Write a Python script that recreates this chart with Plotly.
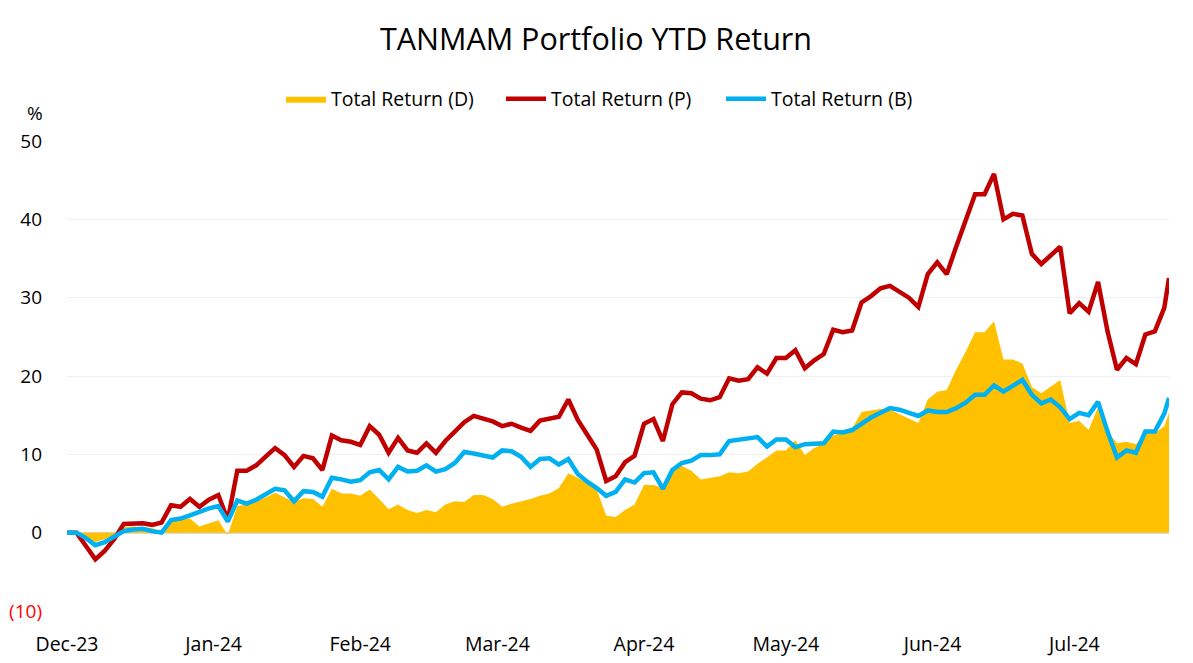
import pandas as pd
import plotly.graph_objects as go

# sample dates (every 2nd day, last point one day later)
dates = list(pd.date_range("2023-12-29", "2024-08-17", freq="2D")) + [pd.Timestamp("2024-08-18")]

# Total Return (P) - portfolio
ret_p = [
    0, 0, -1.7, -3.4, -2.3, -0.8, 1.1, 1.2, 1.2, 1.0,
    1.3, 3.5, 3.3, 4.3, 3.3, 4.2, 4.8, 1.6, 7.9, 7.9,
    8.6, 9.7, 10.8, 9.9, 8.4, 9.8, 9.5, 8.0, 12.4, 11.8,
    11.6, 11.2, 13.6, 12.5, 10.2, 12.1, 10.5, 10.2, 11.4, 10.2,
    11.7, 12.9, 14.1, 14.9, 14.6, 14.2, 13.6, 13.9, 13.4, 13.0,
    14.3, 14.5, 14.8, 17.0, 14.4, 12.5, 10.6, 6.6, 7.2, 9.0,
    9.8, 13.9, 14.5, 11.7, 16.4, 17.9, 17.8, 17.1, 16.9, 17.3,
    19.7, 19.4, 19.6, 21.1, 20.3, 22.3, 22.3, 23.3, 21.0, 22.0,
    22.8, 25.9, 25.6, 25.8, 29.4, 30.2, 31.2, 31.5, 30.7, 30.0,
    28.8, 33.0, 34.5, 33.0, 36.5, 39.8, 43.2, 43.2, 45.8, 40.0,
    40.7, 40.5, 35.6, 34.3, 35.5, 36.5, 28.0, 29.3, 28.2, 32.0,
    25.7, 20.8, 22.3, 21.5, 25.3, 25.7, 28.7, 32.5,
]

# Total Return (B) - benchmark
ret_b = [
    0, 0, -0.7, -1.6, -1.2, -0.5, 0.2, 0.4, 0.5, 0.2,
    0.0, 1.6, 1.8, 2.2, 2.7, 3.1, 3.4, 1.4, 4.1, 3.7,
    4.2, 4.9, 5.6, 5.4, 4.0, 5.3, 5.2, 4.6, 7.0, 6.8,
    6.5, 6.7, 7.7, 8.0, 6.8, 8.4, 7.8, 7.9, 8.6, 7.8,
    8.1, 8.9, 10.3, 10.1, 9.9, 9.6, 10.5, 10.4, 9.7, 8.4,
    9.4, 9.5, 8.7, 9.4, 7.5, 6.5, 5.7, 4.7, 5.2, 6.8,
    6.4, 7.6, 7.7, 5.6, 8.0, 8.9, 9.2, 9.9, 9.9, 10.0,
    11.7, 11.9, 12.0, 12.2, 11.0, 11.9, 11.9, 10.9, 11.3, 11.4,
    11.4, 12.9, 12.8, 13.1, 13.9, 14.7, 15.3, 15.9, 15.7, 15.3,
    14.9, 15.6, 15.4, 15.4, 15.9, 16.6, 17.6, 17.6, 18.8, 18.0,
    18.8, 19.5, 17.6, 16.5, 17.0, 16.0, 14.5, 15.3, 15.0, 16.7,
    12.9, 9.6, 10.5, 10.2, 12.9, 12.9, 15.2, 17.2,
]

# Total Return (D)
ret_d = [
    0, 0, -0.6, -1.2, -0.8, -0.3, 0.7, 0.8, 0.7, 0.6,
    0.1, 1.5, 1.7, 1.8, 0.8, 1.2, 1.6, -0.3, 3.4, 3.6,
    4.0, 4.5, 5.1, 4.5, 3.9, 4.4, 4.3, 3.3, 5.6, 5.0,
    5.0, 4.7, 5.5, 4.3, 3.0, 3.6, 2.9, 2.5, 2.9, 2.6,
    3.6, 4.0, 3.9, 4.8, 4.8, 4.3, 3.3, 3.7, 4.0, 4.3,
    4.7, 5.0, 5.7, 7.6, 7.0, 6.3, 5.5, 2.2, 2.0, 2.9,
    3.6, 6.1, 6.1, 5.7, 8.1, 8.5, 7.9, 6.8, 7.0, 7.2,
    7.7, 7.6, 7.8, 8.8, 9.6, 10.5, 10.5, 11.8, 9.9, 10.8,
    11.4, 12.4, 12.8, 13.3, 15.4, 15.6, 15.8, 15.7, 15.1, 14.5,
    14.0, 17.0, 18.0, 18.2, 20.8, 23.1, 25.6, 25.6, 27.0, 22.1,
    22.1, 21.6, 18.6, 17.8, 18.7, 19.5, 14.0, 14.3, 13.1, 16.0,
    12.9, 11.4, 11.6, 11.3, 12.7, 12.7, 13.6, 15.3,
]

tick_dates = ["2023-12-29", "2024-01-29", "2024-02-29", "2024-03-29",
              "2024-04-29", "2024-05-29", "2024-06-29", "2024-07-29"]
tick_labels = ["Dec-23", "Jan-24", "Feb-24", "Mar-24", "Apr-24", "May-24", "Jun-24", "Jul-24"]
y_ticks = [-10, 0, 10, 20, 30, 40, 50]
y_labels = ["<span style='color:#FF0000'>(10)</span>", "0", "10", "20", "30", "40", "50"]

FONT = "Open Sans"

fig = go.Figure()
fig.add_trace(go.Scatter(x=dates, y=ret_d, name="Total Return (D)", mode="lines",
                         fill="tozeroy", fillcolor="#FFC000", line=dict(width=0, color="#FFC000")))
fig.add_trace(go.Scatter(x=dates, y=ret_p, name="Total Return (P)", mode="lines",
                         line=dict(color="#C00000", width=4.5)))
fig.add_trace(go.Scatter(x=dates, y=ret_b, name="Total Return (B)", mode="lines",
                         line=dict(color="#00B0F0", width=4.5)))

# page body adds 8px offset, so margins are shifted to compensate
fig.update_layout(
    width=1193, height=663,
    margin=dict(l=59, r=32, t=133, b=60),
    paper_bgcolor="white", plot_bgcolor="white",
    font=dict(family=FONT, size=19, color="black"),
    title=dict(text="TANMAM Portfolio YTD Return", x=(596 - 8) / 1193, xanchor="center",
               y=1 - 31.5 / 663, yanchor="middle", font=dict(size=30.5, color="black")),
    legend=dict(orientation="h", x=(603 - 59) / 1102, xanchor="center", yref="container",
                y=1 - 91 / 663, yanchor="middle", itemwidth=40, entrywidth=165,
                font=dict(size=19.5), traceorder="normal"),
    showlegend=True,
)
fig.update_xaxes(type="date", range=[dates[0], dates[-1]], tickvals=tick_dates,
                 ticktext=tick_labels, showgrid=False, showline=False, ticks="",
                 ticklabelstandoff=19, zeroline=False, tickfont=dict(size=19.5),
                 automargin=False)
fig.update_yaxes(range=[-10, 50], tickvals=y_ticks, ticktext=y_labels,
                 showgrid=True, gridcolor="#EFEFEF", gridwidth=1,
                 zeroline=True, zerolinecolor="#D9D9D9", zerolinewidth=2,
                 showline=False, ticks="", ticklabelstandoff=24, automargin=False)

fig.add_annotation(text="%", xref="paper", yref="paper", x=(27 - 59) / 1102,
                   y=(603 - 105.5) / 470, showarrow=False, xanchor="center", yanchor="middle",
                   font=dict(size=19, color="black"))

fig.write_html("out.html")
